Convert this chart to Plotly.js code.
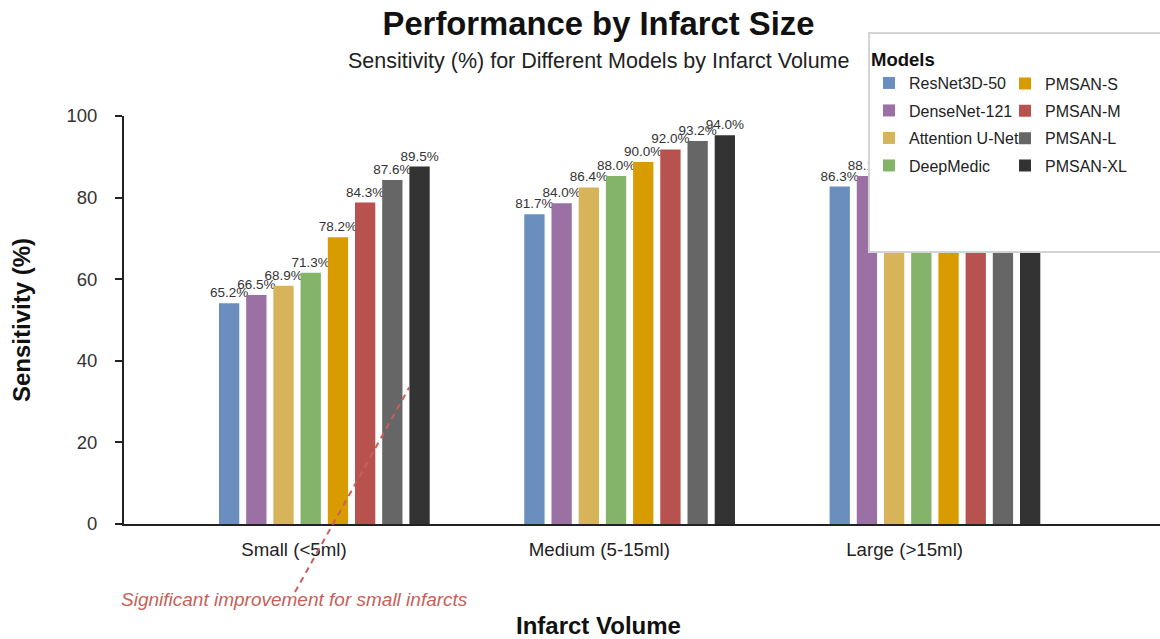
<!DOCTYPE html>
<html>
<head>
<meta charset="utf-8">
<script src="https://cdn.plot.ly/plotly-3.0.1.min.js"></script>
<style>html,body{margin:0;padding:0;background:#fff;}#chart{width:1160px;height:639px;}</style>
</head>
<body>
<div id="chart"></div>
<script>
// ---- data ----
const categories = ['Small (<5ml)', 'Medium (5-15ml)', 'Large (>15ml)'];
const models = ['ResNet3D-50', 'DenseNet-121', 'Attention U-Net', 'DeepMedic', 'PMSAN-S', 'PMSAN-M', 'PMSAN-L', 'PMSAN-XL'];

// bar heights (sensitivity, %) per model across categories
const resnet3d50   = [54.1, 75.9, 82.7];
const densenet121  = [56.1, 78.6, 85.3];
const attentionUnet= [58.4, 82.5, 87.5];
const deepMedic    = [61.6, 85.3, 89.0];
const pmsanS       = [70.3, 88.7, 91.0];
const pmsanM       = [78.8, 91.8, 93.0];
const pmsanL       = [84.3, 93.9, 94.5];
const pmsanXL      = [87.6, 95.3, 95.5];

// value labels shown above bars
const resnet3d50Labels    = ['65.2%', '81.7%', '86.3%'];
const densenet121Labels   = ['66.5%', '84.0%', '88.1%'];
const attentionUnetLabels = ['68.9%', '86.4%', '89.7%'];
const deepMedicLabels     = ['71.3%', '88.0%', '90.5%'];
const pmsanSLabels        = ['78.2%', '90.0%', '92.3%'];
const pmsanMLabels        = ['84.3%', '92.0%', '94.1%'];
const pmsanLLabels        = ['87.6%', '93.2%', '95.0%'];
const pmsanXLLabels       = ['89.5%', '94.0%', '95.6%'];

const seriesValues = [resnet3d50, densenet121, attentionUnet, deepMedic, pmsanS, pmsanM, pmsanL, pmsanXL];
const seriesLabels = [resnet3d50Labels, densenet121Labels, attentionUnetLabels, deepMedicLabels, pmsanSLabels, pmsanMLabels, pmsanLLabels, pmsanXLLabels];

// ---- styles ----
const colors = ['#6a8fbf', '#9a70a5', '#d7b45a', '#84b36a', '#d89c00', '#b8524e', '#666666', '#333333'];
const firstOffset = -0.2457, pitch = 0.0891, barWidth = 0.0665;
const font = 'Liberation Sans, Arial, sans-serif';

const traces = models.map((m, i) => ({
  type: 'bar',
  name: m,
  x: categories,
  y: seriesValues[i],
  text: seriesLabels[i],
  textposition: 'outside',
  textfont: {family: font, size: 13.5, color: '#333'},
  constraintext: 'none',
  cliponaxis: false,
  offset: firstOffset + i * pitch,
  width: barWidth,
  marker: {color: colors[i], line: {width: 0}},
  legend: i < 4 ? 'legend' : 'legend2',
  legendgroup: 'g' + i,
  hoverinfo: 'x+y+name'
}));

// pixel -> paper helpers (plot area: x 124..1160, y 524..116)
const px = p => (p - 124) / 1036;
const py = p => (524 - p) / 408;

const layout = {
  width: 1160, height: 639,
  margin: {l: 124, r: 0, t: 116, b: 115},
  paper_bgcolor: '#fff', plot_bgcolor: '#fff',
  barmode: 'overlay',
  font: {family: font, color: '#222'},
  showlegend: true,
  title: {
    text: '<b>Performance by Infarct Size</b>',
    font: {family: font, size: 32.8, color: '#111'},
    xref: 'container', x: 598.5 / 1160, xanchor: 'center',
    yref: 'container', y: 1 - 24 / 639, yanchor: 'middle'
  },
  xaxis: {
    type: 'category',
    range: [-0.5568, 2.8366],
    showline: true, linewidth: 2, linecolor: '#222',
    ticks: '', showgrid: false, zeroline: false,
    tickfont: {family: font, size: 18.7, color: '#222'},
    ticklabelstandoff: 8
  },
  yaxis: {
    range: [0, 100],
    tickvals: [0, 20, 40, 60, 80, 100],
    showline: true, linewidth: 2, linecolor: '#222',
    ticks: 'outside', ticklen: 7, tickwidth: 2, tickcolor: '#222',
    showgrid: false, zeroline: false,
    tickfont: {family: font, size: 18.5, color: '#333'},
    ticklabelstandoff: 14,
    title: {text: '<b>Sensitivity (%)</b>', font: {family: font, size: 24, color: '#111'}, standoff: 29}
  },
  yaxis2: {
    overlaying: 'y', side: 'left', range: [0, 100],
    tickvals: [0, 20, 40, 60, 80, 100],
    ticks: 'inside', ticklen: 7, tickwidth: 2, tickcolor: '#222',
    showticklabels: false, showgrid: false, zeroline: false, showline: false
  },
  legend: {
    orientation: 'v',
    x: px(869), xanchor: 'left',
    y: py(42), yanchor: 'top',
    bgcolor: 'rgba(0,0,0,0)', borderwidth: 0,
    font: {family: font, size: 16, color: '#222'},
    title: {text: '<b>Models</b>', side: 'top', font: {family: font, size: 18.5, color: '#111'}},
    traceorder: 'grouped', tracegroupgap: 3.7,
    itemclick: false, itemdoubleclick: false
  },
  legend2: {
    orientation: 'v',
    x: px(1005), xanchor: 'left',
    y: py(66.5), yanchor: 'top',
    bgcolor: 'rgba(0,0,0,0)', borderwidth: 0,
    font: {family: font, size: 16, color: '#222'},
    traceorder: 'grouped', tracegroupgap: 3.6,
    itemclick: false, itemdoubleclick: false
  },
  shapes: [
    { // legend panel
      type: 'rect', xref: 'paper', yref: 'paper',
      x0: px(869), x1: px(1175), y0: py(252), y1: py(33),
      fillcolor: '#ffffff', line: {color: '#d4d4d4', width: 2},
      layer: 'above'
    },
    { // annotation pointer
      type: 'line', xref: 'paper', yref: 'paper',
      x0: px(295), y0: py(592), x1: px(409.3), y1: py(387.3),
      line: {color: '#c8605a', width: 2, dash: '6px,5px'},
      layer: 'above'
    }
  ],
  annotations: [
    {
      text: 'Sensitivity (%) for Different Models by Infarct Volume',
      xref: 'paper', yref: 'paper', x: px(598.5), y: py(61),
      xanchor: 'center', yanchor: 'middle', showarrow: false,
      font: {family: font, size: 21.5, color: '#222'}
    },
    {
      text: '<b>Infarct Volume</b>',
      xref: 'paper', yref: 'paper', x: px(598.3), y: py(625),
      xanchor: 'center', yanchor: 'middle', showarrow: false,
      font: {family: font, size: 24, color: '#111'}
    },
    {
      text: '<i>Significant improvement for small infarcts</i>',
      xref: 'paper', yref: 'paper', x: px(294.7), y: py(599),
      xanchor: 'center', yanchor: 'middle', showarrow: false,
      font: {family: font, size: 19, color: '#c8605a'}
    }
  ]
};

Plotly.newPlot('chart', traces, layout, {displayModeBar: false, responsive: false});
</script>
</body>
</html>
